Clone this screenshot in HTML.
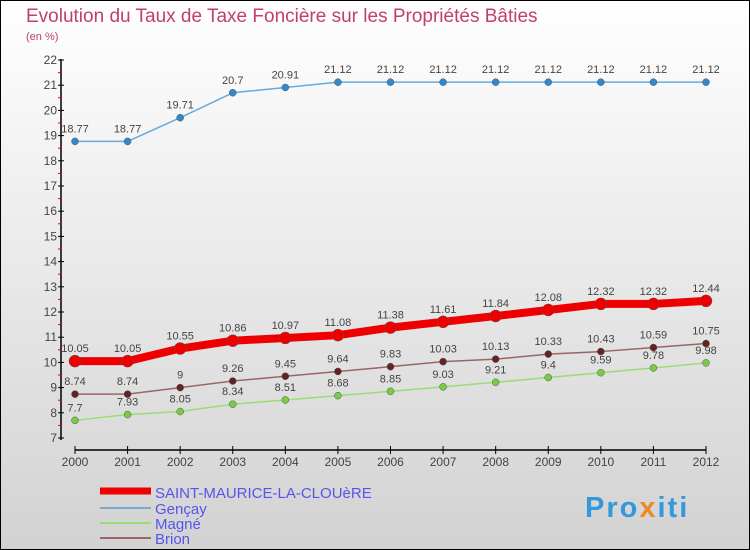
<!DOCTYPE html>
<html><head><meta charset="utf-8"><style>
html,body{margin:0;padding:0}
body{width:750px;height:550px;overflow:hidden}
svg{display:block;font-family:"Liberation Sans",sans-serif}
</style></head><body>
<svg id="c" width="750" height="550" viewBox="0 0 750 550">
<defs><linearGradient id="bg" x1="0" y1="0" x2="0" y2="1"><stop offset="0" stop-color="#ffffff"/><stop offset="1" stop-color="#d2d2d2"/></linearGradient></defs>
<rect x="0.5" y="0.5" width="749" height="549" fill="url(#bg)" stroke="#000"/>
<text x="26" y="22" font-size="19" fill="#c0406a">Evolution du Taux de Taxe Foncière sur les Propriétés Bâties</text>
<text x="26" y="40" font-size="11" fill="#c0406a">(en %)</text>
<g id="axes"></g>
<g id="series"></g>
<g id="legend">
<line x1="100" y1="491" x2="151" y2="491" stroke="#e00" stroke-width="7"/>
<text x="155" y="498" font-size="15" fill="#5555ee">SAINT-MAURICE-LA-CLOUèRE</text>
<line x1="100" y1="508" x2="151" y2="508" stroke="#7aaacc" stroke-width="2"/>
<text x="155" y="514" font-size="15" fill="#5555ee">Gençay</text>
<line x1="100" y1="523" x2="151" y2="523" stroke="#99dd77" stroke-width="2"/>
<text x="155" y="529" font-size="15" fill="#5555ee">Magné</text>
<line x1="100" y1="538" x2="151" y2="538" stroke="#996666" stroke-width="2"/>
<text x="155" y="544" font-size="15" fill="#5555ee">Brion</text>
</g>
<text x="585" y="517" font-size="29" font-weight="bold" letter-spacing="2" fill="#3399dd">Pro<tspan fill="#ee8822">x</tspan>iti</text>
</svg>
<script>
const years=[2000,2001,2002,2003,2004,2005,2006,2007,2008,2009,2010,2011,2012];
const yTicks=[7,8,9,10,11,12,13,14,15,16,17,18,19,20,21,22];
const saintMaurice=[10.05,10.05,10.55,10.86,10.97,11.08,11.38,11.61,11.84,12.08,12.32,12.32,12.44];
const gencay=[18.77,18.77,19.71,20.7,20.91,21.12,21.12,21.12,21.12,21.12,21.12,21.12,21.12];
const magne=[7.7,7.93,8.05,8.34,8.51,8.68,8.85,9.03,9.21,9.4,9.59,9.78,9.98];
const brion=[8.74,8.74,9,9.26,9.45,9.64,9.83,10.03,10.13,10.33,10.43,10.59,10.75];
const NS="http://www.w3.org/2000/svg";
const X=i=>75+i*(706-75)/(years.length-1);
const Y=v=>60+(22-v)*(438-60)/15;
function mk(t,a,p){const e=document.createElementNS(NS,t);for(const k in a)e.setAttribute(k,a[k]);p.appendChild(e);return e;}
const ax=document.getElementById('axes');
let l=mk('line',{x1:61,y1:59,x2:61,y2:440,stroke:'#000','stroke-width':1.5},ax);


yTicks.forEach(v=>{
 mk('line',{x1:58,y1:Y(v),x2:64,y2:Y(v),stroke:'#000'},ax);
 if(v<22)mk('line',{x1:58,y1:Y(v+0.5),x2:61,y2:Y(v+0.5),stroke:'#e00'},ax);
 const t=mk('text',{x:57,y:Y(v)+4,'font-size':12,fill:'#444','text-anchor':'end'},ax);t.textContent=v;
 
 
});
l=mk('line',{x1:75,y1:450,x2:706,y2:450,stroke:'#000','stroke-width':1.5},ax);


years.forEach((y,i)=>{
 mk('line',{x1:X(i),y1:446,x2:X(i),y2:454,stroke:'#000'},ax);
 const t=mk('text',{x:X(i),y:466,'font-size':12,fill:'#444','text-anchor':'middle'},ax);t.textContent=y;
 
 
});
const sg=document.getElementById('series');
function series(name,vals,col,dot,w,r){
 const g=mk('g',{},sg);
 
 
 const p=mk('polyline',{points:vals.map((v,i)=>X(i)+','+Y(v)).join(' '),fill:'none',stroke:col,'stroke-width':w,'stroke-linejoin':'round'},g);
 
 
 vals.forEach((v,i)=>{
  const c=mk('circle',{cx:X(i),cy:Y(v),r:r,fill:dot,stroke:'#555','stroke-width':0.5},g);
  
  
  const t=mk('text',{x:X(i),y:Y(v)-9,'font-size':11,fill:'#444','text-anchor':'middle'},g);t.textContent=v;
  
  
 });
}
series('magne',magne,'#99dd77','#77cc44',1.5,3.5);
series('brion',brion,'#996666','#662222',1.5,3.5);
series('gencay',gencay,'#66aadd','#3388cc',1.5,3.5);
series('saint-maurice',saintMaurice,'#ee0000','#ee0000',8,6);
</script>
</body></html>
